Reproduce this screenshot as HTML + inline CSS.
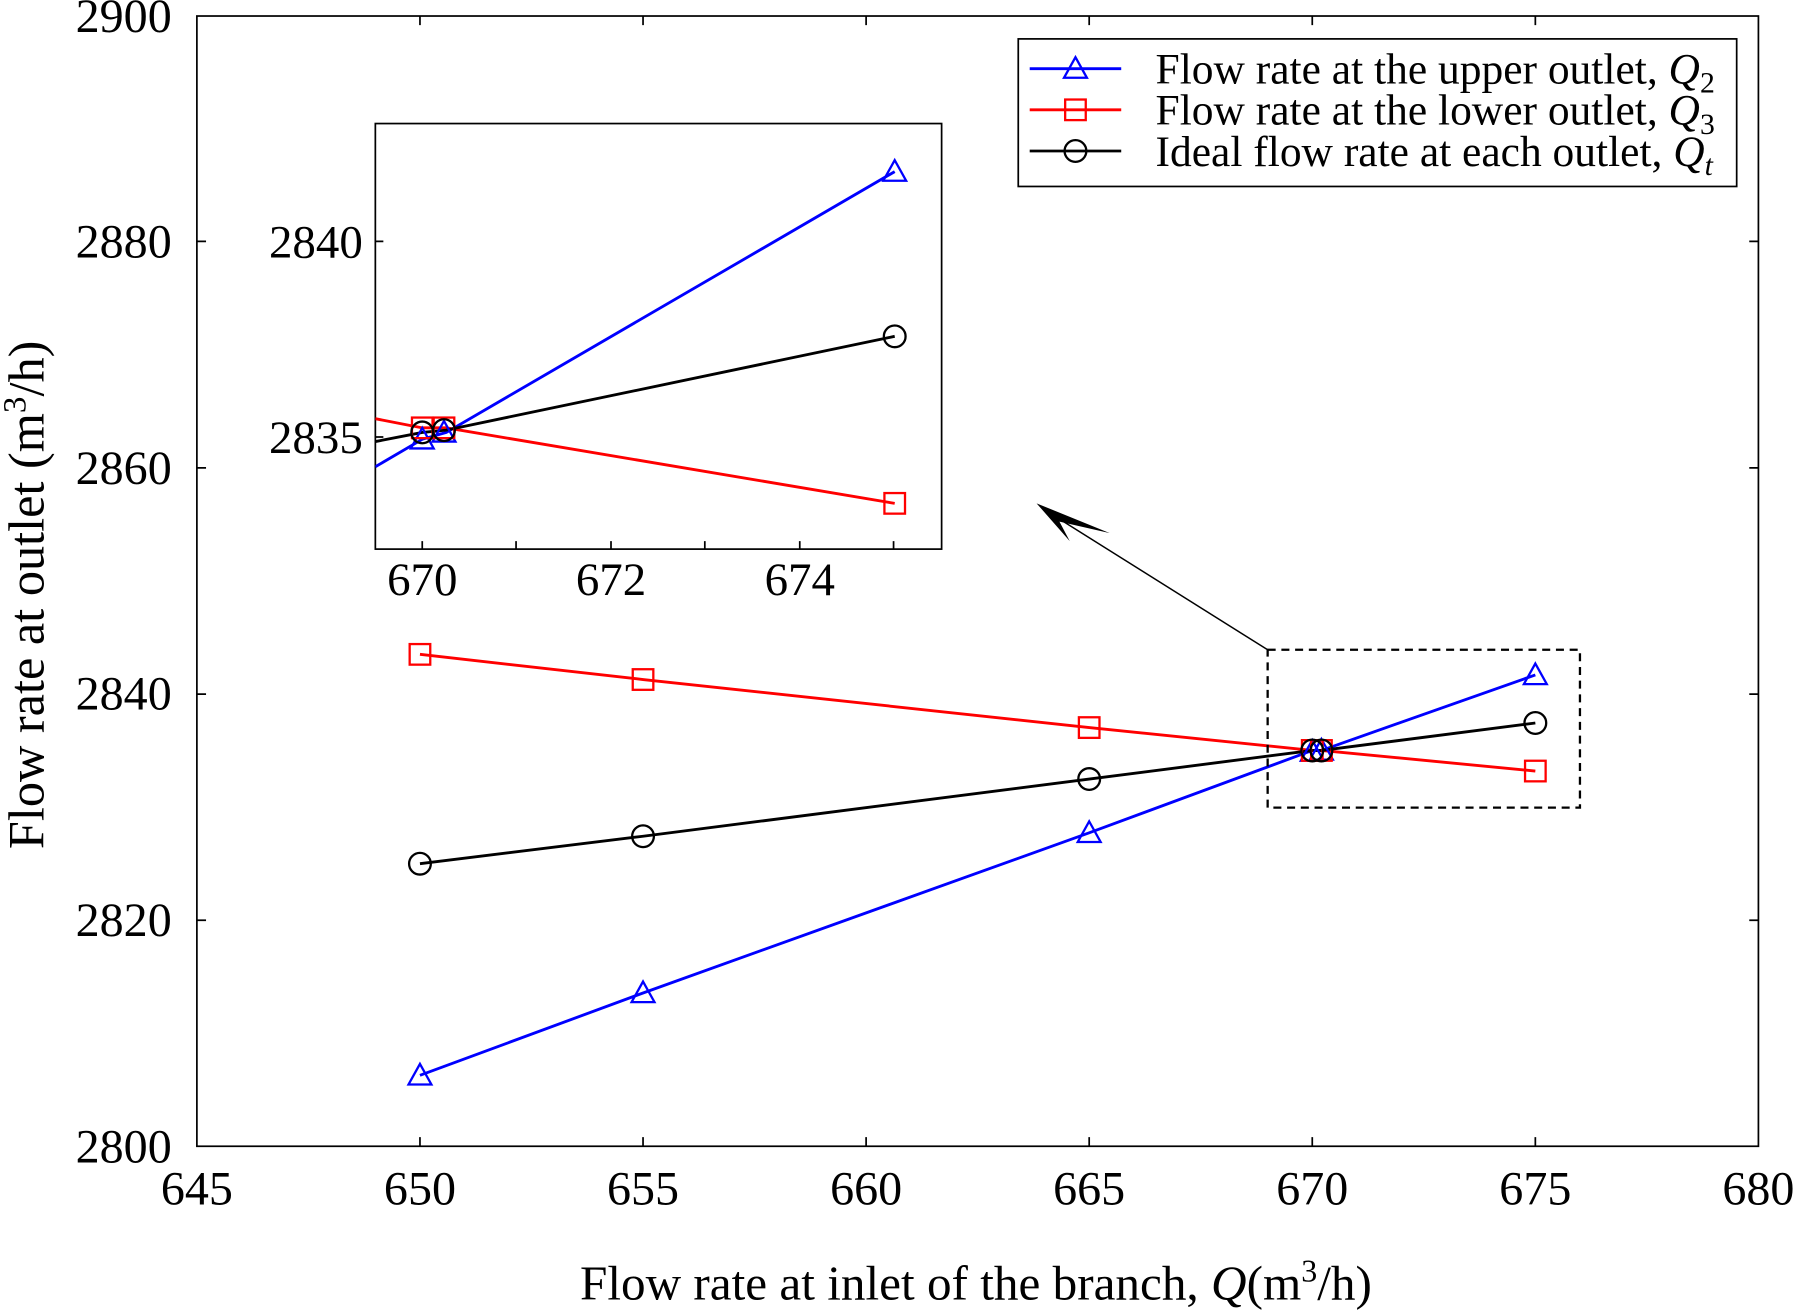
<!DOCTYPE html>
<html><head><meta charset="utf-8"><style>html,body{margin:0;padding:0;background:#fff}svg{display:block}</style></head><body>
<svg width="1794" height="1311" viewBox="0 0 1568 1146" xmlns="http://www.w3.org/2000/svg" font-family="Liberation Serif, serif">
<defs>
<g id="tri"><path d="M0,-10 L10,8 L-10,8 Z" fill="none" stroke="#00f" stroke-width="2"/></g>
<g id="sq"><rect x="-9" y="-9" width="18" height="18" fill="none" stroke="#f00" stroke-width="2"/></g>
<g id="ci"><circle r="9.5" fill="none" stroke="#000" stroke-width="2"/></g>
</defs>
<rect x="172" y="14" width="1365" height="988" fill="none" stroke="#000" stroke-width="1.5"/>
<g stroke="#000" stroke-width="1.5">
<path d="M367,1002v-8M562,1002v-8M757,1002v-8M952,1002v-8M1147,1002v-8M1342,1002v-8M367,14v8M562,14v8M757,14v8M952,14v8M1147,14v8M1342,14v8"/>
<path d="M172,804.4h8M172,606.8h8M172,409h8M172,211h8M1537,804.4h-8M1537,606.8h-8M1537,409h-8M1537,211h-8"/>
</g>
<g font-size="42" text-anchor="middle">
<text x="172" y="1053">645</text><text x="367" y="1053">650</text><text x="562" y="1053">655</text><text x="757" y="1053">660</text><text x="952" y="1053">665</text><text x="1147" y="1053">670</text><text x="1342" y="1053">675</text><text x="1537" y="1053">680</text>
</g>
<g font-size="42" text-anchor="end">
<text x="150" y="1016">2800</text><text x="150" y="818">2820</text><text x="150" y="620">2840</text><text x="150" y="423">2860</text><text x="150" y="225">2880</text><text x="150" y="28">2900</text>
</g>
<text x="853" y="1136" font-size="43" text-anchor="middle">Flow rate at inlet of the branch, <tspan font-style="italic">Q</tspan>(m<tspan font-size="28" dy="-16">3</tspan><tspan dy="16">/h)</tspan></text>
<text transform="translate(38,520) rotate(-90)" font-size="44" text-anchor="middle">Flow rate at outlet (m<tspan font-size="29" dy="-16">3</tspan><tspan dy="16">/h)</tspan></text>
<polyline points="367,940 562,868 952,728 1147,656 1155,656 1342,590" fill="none" stroke="#00f" stroke-width="2.5"/>
<polyline points="367,572 562,594 952,636 1147,656 1155,656 1342,674" fill="none" stroke="#f00" stroke-width="2.5"/>
<polyline points="367,755 562,731 952,681 1147,656 1155,656 1342,632" fill="none" stroke="#000" stroke-width="2.5"/>
<use href="#tri" x="367" y="940"/><use href="#tri" x="562" y="868"/><use href="#tri" x="952" y="728"/><use href="#tri" x="1147" y="657"/><use href="#tri" x="1155" y="656"/><use href="#tri" x="1342" y="590"/>
<use href="#sq" x="367" y="572"/><use href="#sq" x="562" y="594"/><use href="#sq" x="952" y="636"/><use href="#sq" x="1147" y="656"/><use href="#sq" x="1155" y="656"/><use href="#sq" x="1342" y="674"/>
<use href="#ci" x="367" y="755"/><use href="#ci" x="562" y="731"/><use href="#ci" x="952" y="681"/><use href="#ci" x="1147" y="656"/><use href="#ci" x="1155" y="656"/><use href="#ci" x="1342" y="632"/>
<rect x="1108" y="568" width="273" height="138" fill="none" stroke="#000" stroke-width="2" stroke-dasharray="7,5"/>
<line x1="1108" y1="568" x2="920" y2="450" stroke="#000" stroke-width="1.3"/>
<path d="M906,440 L970,466 L926,456 L935,473 Z" fill="#000"/>
<rect x="328" y="108" width="495" height="372" fill="#fff" stroke="#000" stroke-width="1.5"/>
<svg x="328" y="108" width="495" height="372" viewBox="328 108 495 372" overflow="hidden">
<polyline points="328,408 369,384 390,378 782,150" fill="none" stroke="#00f" stroke-width="2.5"/>
<polyline points="328,366 369,374 390,374 782,440" fill="none" stroke="#f00" stroke-width="2.5"/>
<polyline points="328,386 369,378 390,376 782,294" fill="none" stroke="#000" stroke-width="2.5"/>
<use href="#tri" x="369" y="384"/><use href="#tri" x="388" y="378"/><use href="#tri" x="782" y="150"/>
<use href="#sq" x="369" y="374"/><use href="#sq" x="388" y="374"/><use href="#sq" x="782" y="440"/>
<use href="#ci" x="369" y="378"/><use href="#ci" x="388" y="376"/><use href="#ci" x="782" y="294"/>
</svg>
<g stroke="#000" stroke-width="1.5">
<path d="M369,480v-7M451,480v-7M534,480v-7M616,480v-7M699,480v-7M781,480v-7M328,211h7M328,382h7"/>
</g>
<g font-size="41" text-anchor="middle"><text x="369" y="520">670</text><text x="534" y="520">672</text><text x="699" y="520">674</text></g>
<g font-size="41" text-anchor="end"><text x="317" y="225">2840</text><text x="317" y="396">2835</text></g>
<rect x="890" y="34" width="628" height="129" fill="#fff" stroke="#000" stroke-width="1.5"/>
<line x1="900" y1="60" x2="980" y2="60" stroke="#00f" stroke-width="2.5"/><use href="#tri" x="940" y="60"/>
<line x1="900" y1="96" x2="980" y2="96" stroke="#f00" stroke-width="2.5"/><use href="#sq" x="940" y="96"/>
<line x1="900" y1="132" x2="980" y2="132" stroke="#000" stroke-width="2.5"/><use href="#ci" x="940" y="132"/>
<g font-size="38">
<text x="1010" y="73">Flow rate at the upper outlet, <tspan font-style="italic">Q</tspan><tspan font-size="26" dy="8">2</tspan></text>
<text x="1010" y="109">Flow rate at the lower outlet, <tspan font-style="italic">Q</tspan><tspan font-size="26" dy="8">3</tspan></text>
<text x="1010" y="145">Ideal flow rate at each outlet, <tspan font-style="italic">Q</tspan><tspan font-size="26" dy="8" font-style="italic">t</tspan></text>
</g>
</svg>
</body></html>
